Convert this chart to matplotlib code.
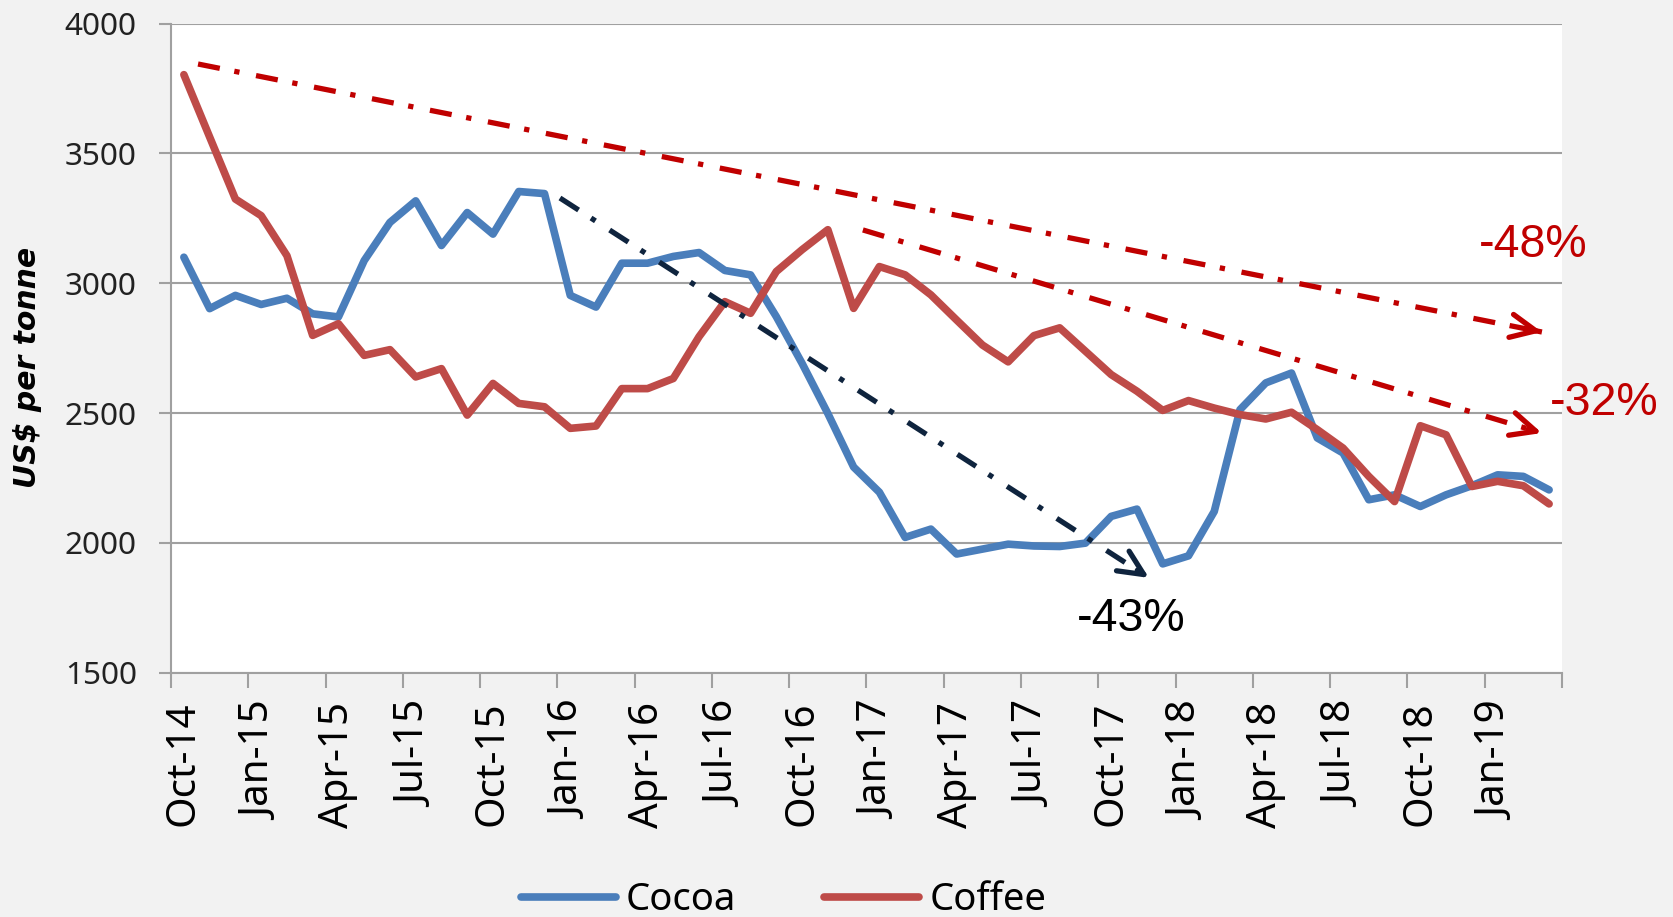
import numpy as np
import pandas as pd
import matplotlib
matplotlib.use("Agg")
import matplotlib.pyplot as plt
from matplotlib.lines import Line2D

# Monthly categories, Oct-2014 .. Mar-2019
months = pd.date_range("2014-10-01", periods=54, freq="MS").strftime("%b-%y").tolist()

# Average monthly prices, US$ per tonne
cocoa = [3100, 2902, 2953, 2918, 2942, 2882, 2870, 3087, 3234, 3317,
         3145, 3272, 3189, 3353, 3345, 2953, 2908, 3077, 3077, 3103,
         3118, 3049, 3032, 2871, 2691, 2498, 2292, 2195, 2021, 2053,
         1957, 1976, 1995, 1988, 1986, 1999, 2102, 2130, 1919, 1950,
         2121, 2513, 2616, 2654, 2404, 2346, 2166, 2185, 2140, 2185,
         2220, 2262, 2256, 2204]
coffee = [3803, 3563, 3324, 3260, 3106, 2799, 2844, 2722, 2744, 2639,
          2671, 2492, 2614, 2537, 2524, 2441, 2450, 2594, 2594, 2633,
          2794, 2929, 2884, 3045, 3129, 3206, 2903, 3064, 3032, 2955,
          2858, 2762, 2697, 2798, 2828, 2738, 2648, 2584, 2510, 2548,
          2519, 2494, 2477, 2503, 2436, 2365, 2256, 2159, 2451, 2416,
          2217, 2237, 2220, 2150]

# Trend arrows: (x0, y0, x1, y1) in category index / price units
trend_starts = [(0.55, 3844), (26.36, 3205), (14.6, 3328)]
trend_ends = [(52.72, 2812), (52.72, 2423), (37.47, 1865)]
trend_colors = ["#C00000", "#C00000", "#0F243E"]
trend_labels = ["-48%", "-32%", "-43%"]
trend_label_colors = ["#C00000", "#C00000", "black"]
trend_label_pos = [(52.37, 3147), (55.13, 2538), (36.77, 1707)]

y_ticks = [1500, 2000, 2500, 3000, 3500, 4000]

COCOA_C = "#4A7EBB"
COFFEE_C = "#BE4B48"
GRID_C = "#A0A0A0"
BG = "#F2F2F2"

fig = plt.figure(figsize=(16.73, 9.17), dpi=100, facecolor=BG)
ax = fig.add_axes([0.10221, 0.26641, 0.83144, 0.70796])
ax.set_facecolor("white")

x = np.arange(len(months))
ax.plot(x, cocoa, color=COCOA_C, lw=5.5, solid_joinstyle="round",
        solid_capstyle="round", zorder=3)
ax.plot(x, coffee, color=COFFEE_C, lw=5.5, solid_joinstyle="round",
        solid_capstyle="round", zorder=3)

ax.set_xlim(-0.5, len(months) - 0.5)
ax.set_ylim(1500, 4000)

# Horizontal gridlines
ax.set_yticks(y_ticks)
ax.yaxis.grid(True, color=GRID_C, lw=1.5)
ax.set_axisbelow(True)
ax.tick_params(axis="y", length=8.6, width=1.5, color=GRID_C, pad=16,
               labelsize=22.7, labelcolor="#222222")
for lab in ax.get_yticklabels():
    lab.set_family("Noto Sans")

# Category axis: tick marks between categories, labels every quarter
ax.set_xticks(np.arange(-0.5, len(months), 3))
ax.set_xticklabels([])
ax.set_xticks(np.arange(0, len(months), 3), minor=True)
ax.set_xticklabels([months[i] for i in range(0, len(months), 3)], minor=True,
                   rotation=90, fontsize=29, family="Noto Sans")
ax.tick_params(axis="x", which="major", length=10.5, width=1.5, color=GRID_C)
ax.tick_params(axis="x", which="minor", length=0, pad=21)

for side in ["top", "right"]:
    ax.spines[side].set_visible(False)
for side in ["left", "bottom"]:
    ax.spines[side].set_color(GRID_C)
    ax.spines[side].set_linewidth(1.5)

# Dash-dot trend arrows with open heads
dash = (0, (4.2, 2.8, 1.0, 3.2))
for (x0, y0), (x1, y1), c in zip(trend_starts, trend_ends, trend_colors):
    ax.plot([x0, x1], [y0, y1], color=c, lw=3.8, linestyle=dash,
            dash_capstyle="butt", clip_on=False, zorder=4)
    hx = x1 - (x1 - x0) * 0.02
    hy = y1 - (y1 - y0) * 0.02
    ax.annotate("", xy=(x1, y1), xytext=(hx, hy),
                arrowprops=dict(arrowstyle="->,head_length=0.9,head_width=0.42",
                                color=c, lw=3.8, mutation_scale=20,
                                shrinkA=0, shrinkB=0),
                annotation_clip=False, zorder=4)

for (tx, ty), txt, c in zip(trend_label_pos, trend_labels, trend_label_colors):
    ax.text(tx, ty, txt, color=c, fontsize=33.5, family="Liberation Sans",
            ha="center", va="center", clip_on=False, zorder=5)

fig.text(28 / 1673, 1 - 367 / 917, "US$ per tonne", rotation=90,
         ha="center", va="center", fontsize=21.5, fontweight="bold",
         style="italic", family="DejaVu Sans")

handles = [Line2D([0], [0], color=COCOA_C, lw=5.5, solid_capstyle="round"),
           Line2D([0], [0], color=COFFEE_C, lw=5.5, solid_capstyle="round")]
leg = fig.legend(handles, ["Cocoa", "Coffee"], loc="center",
                 bbox_to_anchor=(783.5 / 1673, 1 - 900 / 917), ncol=2,
                 frameon=False, prop={"family": "Noto Sans", "size": 27.5},
                 handlelength=2.49, handletextpad=0.26, columnspacing=2.3,
                 borderpad=0.0)

fig.savefig("out.png", dpi=100, facecolor=BG)
